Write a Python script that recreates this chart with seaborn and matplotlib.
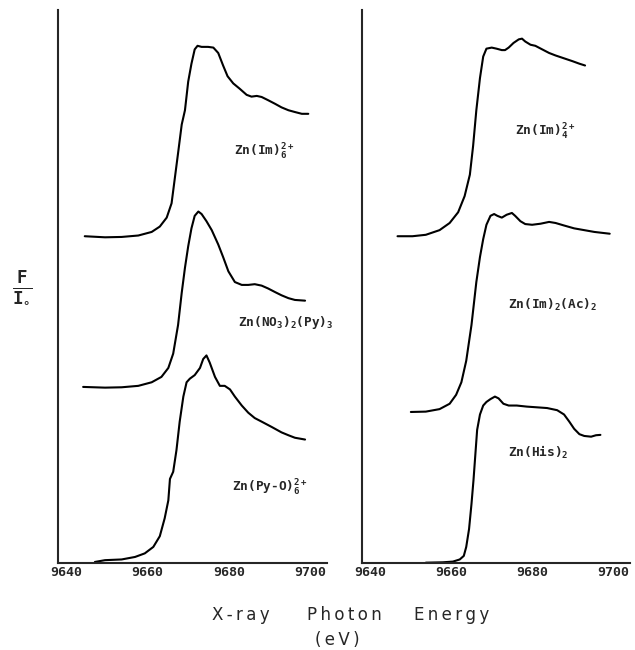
import numpy as np
import pandas as pd
import seaborn as sns
import matplotlib.pyplot as plt
from matplotlib.ticker import MultipleLocator

# --- left panel spectra (energy in eV, intensity offset for stacking) ---
im6_ev = [9644.5, 9649.5, 9653.6, 9657.7, 9661.0, 9663.0, 9664.7, 9665.9, 9666.7, 9667.5,
          9668.4, 9669.2, 9670.0, 9670.8, 9671.6, 9672.3, 9673.3, 9674.9, 9676.2, 9677.4,
          9678.6, 9679.7, 9681.1, 9682.7, 9684.4, 9685.6, 9686.9, 9688.1, 9689.7, 9691.4,
          9693.0, 9694.7, 9696.3, 9698.0, 9699.6]
im6_f = [9.13, 9.10, 9.11, 9.15, 9.25, 9.40, 9.65, 10.05, 10.75, 11.45,
         12.25, 12.65, 13.45, 13.95, 14.35, 14.45, 14.42, 14.42, 14.40, 14.25,
         13.90, 13.60, 13.40, 13.25, 13.08, 13.03, 13.05, 13.02, 12.93, 12.83,
         12.73, 12.65, 12.60, 12.55, 12.55]

no3_ev = [9644.1, 9649.5, 9653.6, 9657.7, 9661.0, 9663.4, 9665.1, 9666.3, 9667.5, 9668.4,
          9669.2, 9670.0, 9670.8, 9671.6, 9672.5, 9673.3, 9674.5, 9675.8, 9677.4, 9678.6,
          9679.9, 9681.5, 9683.2, 9684.8, 9686.4, 9688.1, 9689.7, 9691.4, 9693.0, 9694.7,
          9696.3, 9698.8]
no3_f = [4.92, 4.90, 4.91, 4.95, 5.05, 5.20, 5.45, 5.85, 6.65, 7.55,
         8.25, 8.85, 9.35, 9.70, 9.82, 9.75, 9.55, 9.30, 8.90, 8.55,
         8.15, 7.85, 7.77, 7.77, 7.79, 7.75, 7.67, 7.57, 7.48, 7.40,
         7.35, 7.33]

pyo_ev = [9647.0, 9649.5, 9653.6, 9656.9, 9659.3, 9661.4, 9663.0, 9664.2, 9665.1, 9665.5,
          9666.3, 9667.1, 9667.9, 9668.8, 9669.6, 9670.4, 9671.6, 9672.9, 9673.7, 9674.5,
          9675.3, 9676.6, 9677.8, 9679.0, 9680.3, 9681.5, 9683.2, 9684.8, 9686.4, 9688.1,
          9690.6, 9693.0, 9694.7, 9696.3, 9698.8]
pyo_f = [0.03, 0.08, 0.10, 0.17, 0.27, 0.45, 0.75, 1.25, 1.75, 2.35,
         2.55, 3.15, 3.95, 4.65, 5.05, 5.15, 5.25, 5.45, 5.70, 5.80,
         5.60, 5.20, 4.95, 4.95, 4.85, 4.65, 4.40, 4.20, 4.05, 3.95,
         3.80, 3.65, 3.57, 3.50, 3.45]

# --- right panel spectra ---
im4_ev = [9646.7, 9650.4, 9653.7, 9657.1, 9659.6, 9661.7, 9663.3, 9664.6, 9665.4, 9666.2,
          9667.1, 9667.9, 9668.7, 9670.0, 9671.2, 9672.5, 9673.3, 9674.2, 9675.4, 9676.7,
          9677.5, 9678.3, 9679.6, 9680.8, 9682.5, 9684.2, 9685.8, 9687.9, 9690.0, 9691.7,
          9693.1]
im4_f = [9.13, 9.13, 9.17, 9.30, 9.50, 9.80, 10.25, 10.85, 11.65, 12.65,
         13.55, 14.15, 14.37, 14.40, 14.37, 14.33, 14.33, 14.40, 14.53, 14.63,
         14.65, 14.57, 14.48, 14.45, 14.35, 14.25, 14.18, 14.10, 14.02, 13.95,
         13.90]

ac_ev = [9650.0, 9653.7, 9657.1, 9659.6, 9661.2, 9662.5, 9663.7, 9665.0, 9666.2, 9667.1,
         9667.9, 9668.7, 9669.7, 9670.6, 9671.4, 9672.5, 9673.7, 9675.0, 9675.8, 9677.1,
         9678.3, 9680.0, 9682.1, 9684.2, 9685.8, 9687.9, 9690.4, 9692.9, 9695.4, 9699.2]
ac_f = [4.22, 4.23, 4.30, 4.45, 4.70, 5.05, 5.65, 6.65, 7.85, 8.55,
        9.05, 9.45, 9.70, 9.75, 9.70, 9.65, 9.73, 9.78, 9.70, 9.55,
        9.47, 9.45, 9.48, 9.53, 9.50, 9.43, 9.35, 9.30, 9.25, 9.20]

his_ev = [9653.7, 9657.9, 9660.4, 9662.1, 9663.1, 9663.7, 9664.4, 9665.0, 9665.5, 9666.4,
          9667.1, 9667.9, 9668.7, 9669.7, 9670.8, 9671.7, 9672.9, 9674.2, 9676.2, 9678.7,
          9681.2, 9683.7, 9686.2, 9687.9, 9689.2, 9690.4, 9691.7, 9692.9, 9694.6, 9695.8,
          9696.9]
his_f = [0.01, 0.02, 0.04, 0.10, 0.20, 0.45, 0.95, 1.65, 2.32, 3.72,
         4.15, 4.40, 4.50, 4.58, 4.65, 4.60, 4.45, 4.40, 4.40, 4.37,
         4.35, 4.33, 4.27, 4.15, 3.95, 3.75, 3.60, 3.55, 3.53, 3.57,
         3.58]

tick_vals = [9640, 9660, 9680, 9700]
tick_labels = ['9640', '9660', '9680', '9700']

left_curves = [(im6_ev, im6_f), (no3_ev, no3_f), (pyo_ev, pyo_f)]
right_curves = [(im4_ev, im4_f), (ac_ev, ac_f), (his_ev, his_f)]

left_labels = [(9681.2, 11.48, r'Zn(Im)$_6^{2+}$'),
               (9682.2, 6.73, r'Zn(NO$_3$)$_2$(Py)$_3$'),
               (9680.7, 2.10, r'Zn(Py-O)$_6^{2+}$')]
right_labels = [(9675.8, 12.04, r'Zn(Im)$_4^{2+}$'),
                (9674.1, 7.21, r'Zn(Im)$_2$(Ac)$_2$'),
                (9674.1, 3.10, r'Zn(His)$_2$')]

sns.set_style('white')
plt.rcParams['font.family'] = ['DejaVu Sans']
plt.rcParams['mathtext.fontset'] = 'custom'
plt.rcParams['mathtext.rm'] = 'DejaVu Sans Mono:bold'
plt.rcParams['mathtext.default'] = 'rm'

fig = plt.figure(figsize=(6.35, 6.5), dpi=100)
ax1 = fig.add_axes([0.0913, 0.1338, 0.4236, 0.8508])
ax2 = fig.add_axes([0.570, 0.1338, 0.422, 0.8508])

for ax, curves, labels in [(ax1, left_curves, left_labels), (ax2, right_curves, right_labels)]:
    for ev, f in curves:
        df = pd.DataFrame({'ev': ev, 'f': f})
        sns.lineplot(data=df, x='ev', y='f', ax=ax, color='black', lw=1.5,
                     estimator=None, sort=False)
    for x, y, s in labels:
        ax.text(x, y, s, fontsize=9.2, family='DejaVu Sans Mono', weight='bold',
                ha='left', va='center', clip_on=False)
    ax.set_xlim(9637.9, 9704.2)
    ax.set_ylim(0, 15.45)
    for side in ['top', 'right']:
        ax.spines[side].set_visible(False)
    ax.spines['left'].set_linewidth(1.5)
    ax.spines['bottom'].set_linewidth(1.5)
    ax.set_yticks([])
    ax.set_xticks(tick_vals)
    ax.set_xticklabels(tick_labels, family='DejaVu Sans Mono', weight='bold', fontsize=9.5)
    ax.xaxis.set_minor_locator(MultipleLocator(4))
    ax.tick_params(axis='x', which='major', direction='in', length=6, width=1.2, pad=2)
    ax.tick_params(axis='x', which='minor', direction='in', length=3, width=1.2)
    ax.set_xlabel('')
    ax.set_ylabel('')

# letter-spaced axis title, one word at a time
ts = '\u2009'
for word, xc in [('X-ray', 0.380), ('Photon', 0.542), ('Energy', 0.712)]:
    fig.text(xc, 0.054, ts.join(word), ha='center', va='center', fontsize=12)
fig.text(0.531, 0.016, ts.join('(eV)'), ha='center', va='center', fontsize=12)
fig.text(0.035, 0.557, r'$\frac{F}{I_{\circ}}$', ha='center', va='center', fontsize=18)

fig.savefig('out.png', dpi=100)
